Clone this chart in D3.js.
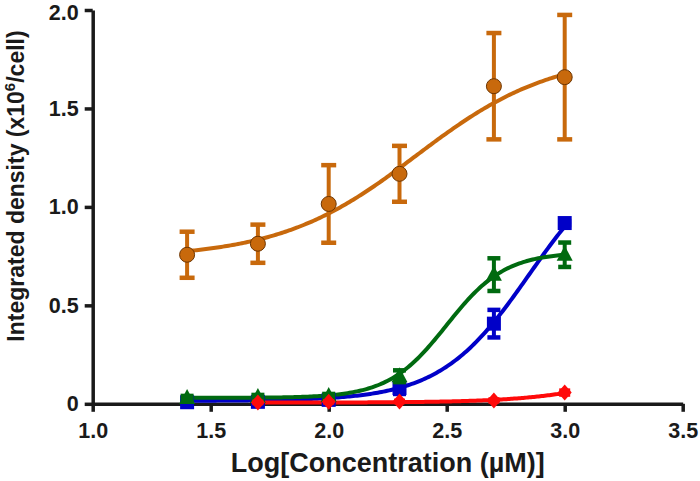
<!DOCTYPE html>
<html>
<head>
<meta charset="utf-8">
<script src="https://cdn.jsdelivr.net/npm/d3@7"></script>
<style>
  html, body { margin: 0; padding: 0; background: #fff; }
  svg { display: block; }
  text { font-family: "Liberation Sans", Arial, sans-serif; font-weight: bold; fill: #1a1a1a; }
</style>
</head>
<body>
<svg id="chart" width="700" height="481"></svg>
<script>
// ---- data ----
const concentrations = [1.4, 1.7, 2.0, 2.3, 2.7, 3.0];
const redConcentrations = [1.7, 2.0, 2.3, 2.7, 3.0];

const orangeMean = [0.757, 0.813, 1.015, 1.168, 1.613, 1.659];
const orangeErr  = [0.117, 0.097, 0.197, 0.142, 0.270, 0.316];

const blueMean = [0.008, 0.010, 0.020, 0.080, 0.407, 0.918];
const blueErr  = [0.005, 0.005, 0.008, 0.030, 0.070, 0.010];

const greenMean = [0.030, 0.035, 0.040, 0.140, 0.656, 0.757];
const greenErr  = [0.010, 0.010, 0.010, 0.030, 0.083, 0.062];

const redMean = [0.007, 0.010, 0.012, 0.017, 0.057];
const redErr  = [0.003, 0.003, 0.003, 0.005, 0.010];

// sigmoidal fit parameters: [bottom, top, logEC50, hill]
const orangeFit = [0.74, 1.78, 2.37, 1.5];
const blueFit   = [0.015, 1.30, 2.85, 2.3];
const greenFit  = [0.03, 0.77, 2.50, 3.5];
const redFit    = [0.006, 0.30, 3.35, 2.0];

const xTicks = [1.0, 1.5, 2.0, 2.5, 3.0, 3.5];
const yTicks = [0, 0.5, 1.0, 1.5, 2.0];

const xTitle = "Log[Concentration (µM)]";

// ---- layout ----
const svg = d3.select("#chart");
const x = d3.scaleLinear().domain([1.0, 3.5]).range([92.7, 682.7]);
const y = d3.scaleLinear().domain([0, 2.0]).range([403.8, 10]);

function sig(p, v) {
  return p[0] + (p[1] - p[0]) / (1 + Math.pow(10, (p[2] - v) * p[3]));
}

const series = [
  { name: "orange", xs: concentrations, mean: orangeMean, err: orangeErr, fit: orangeFit,
    color: "#c8690c", marker: "circle", cap: 15 },
  { name: "blue", xs: concentrations, mean: blueMean, err: blueErr, fit: blueFit,
    color: "#0000c8", marker: "square", cap: 13 },
  { name: "green", xs: concentrations, mean: greenMean, err: greenErr, fit: greenFit,
    color: "#006a10", marker: "triangle", cap: 13 },
  { name: "red", xs: redConcentrations, mean: redMean, err: redErr, fit: redFit,
    color: "#ff0a0a", marker: "diamond", cap: 11 }
];

// ---- axes ----
const xAxis = svg.append("g")
  .attr("transform", `translate(0,${y(0)})`)
  .call(d3.axisBottom(x).tickValues(xTicks).tickFormat(d3.format(".1f")).tickSize(8).tickSizeOuter(0).tickPadding(11));
const yAxis = svg.append("g")
  .attr("transform", `translate(${x(1.0)},0)`)
  .call(d3.axisLeft(y).tickValues(yTicks).tickFormat(d => d === 0 ? "0" : d3.format(".1f")(d)).tickSize(8).tickSizeOuter(0).tickPadding(6));

[xAxis, yAxis].forEach(g => {
  g.select(".domain").attr("stroke", "#1a1a1a").attr("stroke-width", 3.5);
  g.selectAll(".tick line").attr("stroke", "#1a1a1a").attr("stroke-width", 3.5);
  g.selectAll(".tick text").attr("font-size", 21.5).attr("fill", "#1a1a1a")
    .attr("font-family", "'Liberation Sans', Arial, sans-serif").attr("font-weight", "bold");
});
// keep the top tick label inside the frame
yAxis.selectAll(".tick text").filter(d => d === 2.0).attr("y", 3);

// axis titles
svg.append("text")
  .attr("x", (x(1.0) + x(3.5)) / 2)
  .attr("y", 472)
  .attr("text-anchor", "middle")
  .attr("font-size", 27)
  .text(xTitle);

const yt = svg.append("text")
  .attr("transform", "translate(24,186) rotate(-90)")
  .attr("text-anchor", "middle")
  .attr("font-size", 23);
yt.append("tspan").text("Integrated density (x10");
yt.append("tspan").attr("font-size", 15).attr("dy", -9).text("6");
yt.append("tspan").attr("dy", 9).text("/cell)");

// ---- curves ----
const line = d3.line().x(d => x(d[0])).y(d => y(d[1])).curve(d3.curveLinear);
const drawOrder = [series[0], series[1], series[2], series[3]];

drawOrder.forEach(s => {
  const x0 = s.xs[0], x1 = s.xs[s.xs.length - 1];
  const pts = d3.range(0, 201).map(i => {
    const v = x0 + (x1 - x0) * i / 200;
    return [v, sig(s.fit, v)];
  });
  svg.append("path")
    .attr("d", line(pts))
    .attr("fill", "none")
    .attr("stroke", s.color)
    .attr("stroke-width", 4)
    .attr("stroke-linecap", "round");
});

// ---- error bars and markers ----
drawOrder.forEach(s => {
  const g = svg.append("g");
  s.xs.forEach((xv, i) => {
    const m = s.mean[i], e = s.err[i];
    const cx = x(xv), top = y(m + e), bot = y(m - e);
    g.append("line").attr("x1", cx).attr("x2", cx).attr("y1", top).attr("y2", bot)
      .attr("stroke", s.color).attr("stroke-width", 4);
    [top, bot].forEach(yy => {
      g.append("line").attr("x1", cx - s.cap / 2).attr("x2", cx + s.cap / 2)
        .attr("y1", yy).attr("y2", yy)
        .attr("stroke", s.color).attr("stroke-width", 4.5);
    });
  });
  s.xs.forEach((xv, i) => {
    const cx = x(xv), cy = y(s.mean[i]);
    if (s.marker === "circle") {
      g.append("circle").attr("cx", cx).attr("cy", cy).attr("r", 7.5)
        .attr("fill", s.color).attr("stroke", "#6e3500").attr("stroke-width", 1);
    } else if (s.marker === "square") {
      g.append("rect").attr("x", cx - 7).attr("y", cy - 7).attr("width", 14).attr("height", 14)
        .attr("fill", s.color);
    } else if (s.marker === "triangle") {
      g.append("path").attr("transform", `translate(${cx},${cy})`)
        .attr("d", "M0,-9 L8,6 L-8,6 Z").attr("fill", s.color);
    } else {
      g.append("path").attr("transform", `translate(${cx},${cy})`)
        .attr("d", "M0,-8 L7,0 L0,8 L-7,0 Z").attr("fill", s.color);
    }
  });
});
</script>
</body>
</html>
